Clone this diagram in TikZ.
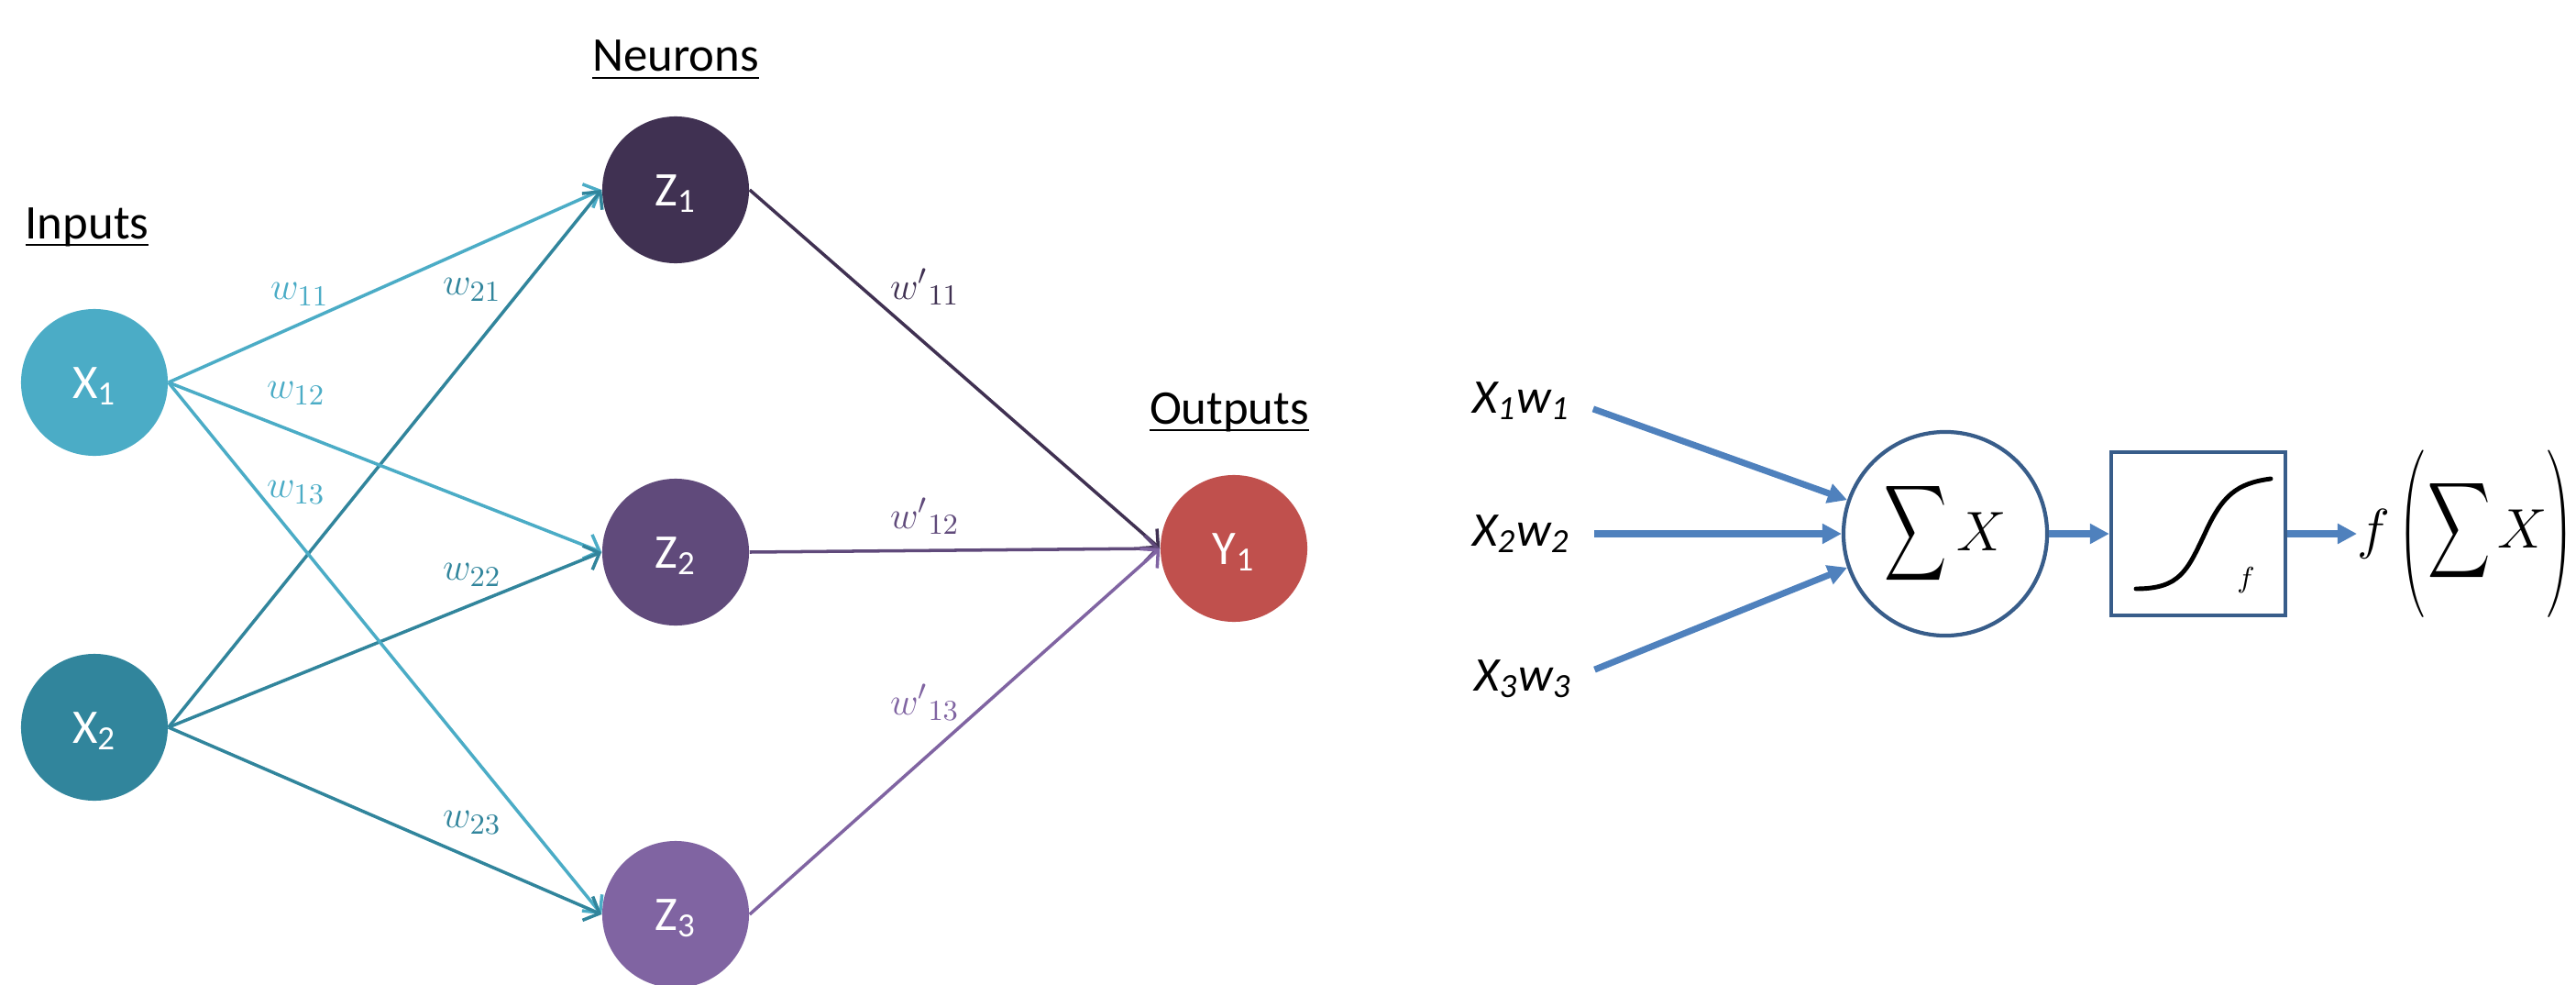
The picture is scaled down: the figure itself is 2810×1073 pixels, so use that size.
\documentclass[tikz,border=0pt]{standalone}
\usepackage{amsmath}
\usepackage{graphicx}
\usepackage{fontspec}
\setmainfont{Carlito}
\usetikzlibrary{arrows.meta}
\definecolor{aqualight}{HTML}{4BACC6}
\definecolor{aquadark}{HTML}{31859C}
\definecolor{plumdark}{HTML}{403152}
\definecolor{plummid}{HTML}{604A7B}
\definecolor{plumlight}{HTML}{8064A2}
\definecolor{outred}{HTML}{C0504D}
\definecolor{flowblue}{HTML}{4F81BD}
\definecolor{edgeblue}{HTML}{385D8A}
\newcommand{\headtxt}[1]{\underline{\smash{#1}}}
\newcommand{\bigsum}{\scalebox{0.65}[1]{\fontsize{22}{26}\selectfont$\displaystyle\sum$}}
\newcommand{\bigX}{{\fontsize{17}{20}\selectfont$X$}}

\begin{document}
\begin{tikzpicture}[
    x=0.01cm, y=-0.01cm,
    font=\fontsize{15}{18}\selectfont,
    neuron/.style={circle, minimum size=1.6cm, inner sep=0pt, text=white,
                 text height=9.7pt, text depth=0pt},
    heading/.style={anchor=base, inner sep=0pt},
    synapse/.style={-{Straight Barb[length=4pt,width=8pt]}, line width=1pt},
    weight/.style={font=\fontsize{13}{15}\selectfont, inner sep=0pt},
    flow/.style={-{Triangle[length=6pt,width=6pt]}, line width=2pt, flowblue},
    prod/.style={font=\fontsize{15}{18}\selectfont\itshape, inner sep=0pt, anchor=east}
]
\useasboundingbox (0,0) rectangle (2810,1073);

\node[neuron, fill=aqualight] (x1) at (103,417) {X\textsubscript{1}};
\node[neuron, fill=aquadark] (x2) at (103,793) {X\textsubscript{2}};
\node[neuron, fill=plumdark] (z1) at (737,207) {Z\textsubscript{1}};
\node[neuron, fill=plummid] (z2) at (737,602) {Z\textsubscript{2}};
\node[neuron, fill=plumlight] (z3) at (737,997) {Z\textsubscript{3}};
\node[neuron, fill=outred] (y1) at (1346,598) {Y\textsubscript{1}};

\node[heading] (hin) at (95,260) {\headtxt{Inputs}};
\node[heading] (hneu) at (737,78) {\headtxt{Neurons}};
\node[heading] (hout) at (1341,462) {\headtxt{Outputs}};

\foreach \z in {1,2,3} {
    \draw[synapse, aqualight] (x1.east) -- (z\z.west);
    \draw[synapse, aquadark] (x2.east) -- (z\z.west);
}
\foreach \z/\c in {1/plumdark, 2/plummid, 3/plumlight}
    \draw[synapse, \c] (z\z.east) -- (y1.west);

\foreach \lbl/\c/\px/\py in {11/aqualight/327/321, 12/aqualight/323/429, 13/aqualight/323/537,
                             21/aquadark/515/316, 22/aquadark/515/627, 23/aquadark/515/897}
    \node[weight, text=\c] (w\lbl) at (\px,\py) {$w_{\lbl}$};
\foreach \lbl/\c/\py in {11/plumdark/313, 12/plummid/563, 13/plumlight/766}
    \node[weight, text=\c] (v\lbl) at (1009,\py) {${w'}_{\lbl}$};

\node[prod] (xw1) at (1713,437) {X\textsubscript{1}w\textsubscript{1}};
\node[prod] (xw2) at (1713,582) {X\textsubscript{2}w\textsubscript{2}};
\node[prod] (xw3) at (1715,740) {X\textsubscript{3}w\textsubscript{3}};

\node[circle, draw=edgeblue, line width=1.2pt, minimum size=2.22cm, inner sep=0pt] (sum) at (2122,582)
    {\bigsum\hspace{3pt}\bigX};
\node[draw=edgeblue, line width=1.2pt, minimum width=1.9cm, minimum height=1.78cm] (act) at (2398,582) {};
\draw[line width=1.4pt, line cap=round] (2330,642) .. controls (2378,642) and (2386,622) .. (2405,582)
    .. controls (2424,540) and (2440,527) .. (2477,522);
\node[font=\fontsize{9}{10}\selectfont] (fsmall) at (2450,633) {$f$};
\node[inner sep=0pt, anchor=west, font=\fontsize{17}{23.3}\selectfont] (fout) at (2571,582)
    {$f$\hspace{2.5pt}\scalebox{0.6}[1]{$\Biggl($}\hspace{1pt}\bigsum\hspace{2pt}\bigX\hspace{0pt}\scalebox{0.6}[1]{$\Biggr)$}};

\draw[flow, shorten <=7.5pt] (xw1.east) -- (sum.161);
\draw[flow, shorten <=7.5pt] (xw2.east) -- (sum.west);
\draw[flow, shorten <=7.5pt] (xw3.east) -- (sum.199);
\draw[flow] (sum.east) -- (act.west);
\draw[flow] (act.east) -- (fout.west);
\end{tikzpicture}
\end{document}
